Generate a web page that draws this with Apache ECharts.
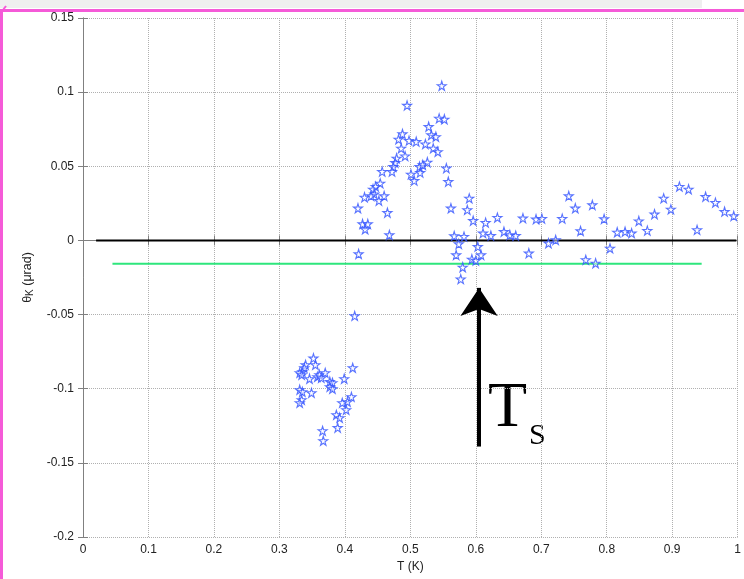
<!DOCTYPE html>
<html><head><meta charset="utf-8">
<script src="https://cdn.jsdelivr.net/npm/echarts@6/dist/echarts.min.js"></script>
<style>html,body{margin:0;padding:0;background:#fff}#c{width:744px;height:579px}</style>
</head><body><div id="c"></div>
<script>
var xTicks = [0,0.1,0.2,0.3,0.4,0.5,0.6,0.7,0.8,0.9,1];
var yTicks = [-0.2,-0.15,-0.1,-0.05,0,0.05,0.1,0.15];
var lowT = [0.352,0.355,0.340,0.338,0.335,0.331,0.334,0.346,0.358,0.361,0.370,0.364,0.377,0.381,0.377,0.381,0.399,0.412,0.331,0.335,0.349,0.334,0.331,0.410,0.404,0.396,0.402,0.387,0.392,0.389,0.366,0.367,0.415];
var lowTheta = [-0.0794,-0.0839,-0.0839,-0.0859,-0.0886,-0.0893,-0.0906,-0.0933,-0.0920,-0.0906,-0.0893,-0.0927,-0.0953,-0.0960,-0.0987,-0.1001,-0.0933,-0.0859,-0.1007,-0.1021,-0.1028,-0.1075,-0.1095,-0.1055,-0.1088,-0.1095,-0.1142,-0.1176,-0.1196,-0.1263,-0.1284,-0.1351,-0.0509];
var highT = [0.548,0.495,0.544,0.552,0.528,0.532,0.539,0.488,0.482,0.498,0.509,0.523,0.486,0.535,0.542,0.492,0.479,0.477,0.474,0.472,0.457,0.501,0.506,0.514,0.519,0.526,0.515,0.555,0.558,0.454,0.447,0.443,0.445,0.440,0.430,0.460,0.452,0.420,0.465,0.590,0.587,0.562,0.596,0.427,0.435,0.431,0.468,0.567,0.582,0.574,0.603,0.421];
var highTheta = [0.1043,0.0910,0.0823,0.0817,0.0767,0.0711,0.0699,0.0718,0.0682,0.0673,0.0666,0.0650,0.0621,0.0621,0.0598,0.0569,0.0554,0.0524,0.0497,0.0464,0.0464,0.0446,0.0403,0.0497,0.0509,0.0527,0.0457,0.0487,0.0396,0.0385,0.0363,0.0345,0.0313,0.0300,0.0291,0.0300,0.0268,0.0217,0.0187,0.0284,0.0206,0.0217,0.0133,0.0111,0.0111,0.0075,0.0037,0.0030,0.0026,-0.0024,-0.0042,-0.0091];
var tailT = [0.615,0.633,0.611,0.623,0.643,0.652,0.661,0.672,0.692,0.701,0.732,0.742,0.752,0.778,0.760,0.570,0.608,0.594,0.600,0.580,0.577,0.681,0.711,0.722,0.768,0.783,0.796,0.816,0.828,0.838,0.849,0.862,0.873,0.887,0.898,0.911,0.925,0.938,0.951,0.966,0.980,0.994,0.805];
var tailTheta = [0.0120,0.0154,0.0049,0.0032,0.0059,0.0037,0.0032,0.0150,0.0143,0.0147,0.0147,0.0300,0.0217,0.0239,0.0064,-0.0098,-0.0098,-0.0127,-0.0136,-0.0181,-0.0261,-0.0086,-0.0019,0.0003,-0.0131,-0.0154,0.0145,0.0055,0.0059,0.0049,0.0131,0.0066,0.0177,0.0284,0.0210,0.0363,0.0345,0.0071,0.0295,0.0255,0.0194,0.0165,-0.0053];
var zeroLine = [[0.02,0],[0.998,0]];
var greenLine = [[0.045,-0.0158],[0.945,-0.0158]];
var arrow = [[0.605,-0.139],[0.605,-0.032]];

function zip(a,b){return a.map(function(v,i){return [v,b[i]];});}
var pts = zip(lowT,lowTheta).concat(zip(highT,highTheta)).concat(zip(tailT,tailTheta));
var star = 'path://M50,2 L61,37 L98,37 L68,59 L79,94 L50,73 L21,94 L32,59 L2,37 L39,37 Z';
var lab = {color:'#222', fontFamily:'Liberation Sans, Arial', fontSize:12};
var ax = '#808080';
var chart = echarts.init(document.getElementById('c'));
chart.setOption({
  backgroundColor:'#fff',
  animation:false,
  grid:{left:83,right:5,top:18,bottom:42},
  xAxis:[{type:'value',min:0,max:1,interval:0.1,position:'bottom',
    name:'T (K)',nameLocation:'middle',nameGap:24,nameTextStyle:lab,
    axisLine:{lineStyle:{color:ax}},axisTick:{inside:true,length:5,lineStyle:{color:ax}},
    axisLabel:Object.assign({margin:7,formatter:function(v){return String(+v.toFixed(2));}},lab),
    splitLine:{show:true,lineStyle:{type:'dotted',color:'#b0b0b0'}}},
   {type:'value',min:0,max:1,interval:0.1,position:'top',
    axisLine:{lineStyle:{color:ax}},axisTick:{inside:true,length:5,lineStyle:{color:ax}},
    axisLabel:{show:false},splitLine:{show:false}}],
  yAxis:[{type:'value',min:-0.2,max:0.15,interval:0.05,position:'left',
    name:'{a|θ}{b|K}{a| (μrad)}',nameLocation:'middle',nameGap:44,
    nameTextStyle:{rich:{a:{fontSize:12.5,color:'#222',fontFamily:'Liberation Sans, Arial'},b:{fontSize:10,color:'#222',fontFamily:'Liberation Sans, Arial',padding:[6,0,0,0]}}},
    axisLine:{show:true,lineStyle:{color:ax}},axisTick:{show:true,inside:true,length:5,lineStyle:{color:ax}},
    axisLabel:Object.assign({margin:9,formatter:function(v){return String(+v.toFixed(2));}},lab),
    splitLine:{show:true,lineStyle:{type:'dotted',color:'#b0b0b0'}}},
   {type:'value',min:-0.2,max:0.15,interval:0.05,position:'right',
    axisLine:{show:true,lineStyle:{color:ax}},axisTick:{show:true,inside:true,length:5,lineStyle:{color:ax}},
    axisLabel:{show:false},splitLine:{show:false}}],
  series:[
    {type:'line',data:zeroLine,symbol:'none',lineStyle:{color:'#000',width:2},z:3},
    {type:'line',data:greenLine,symbol:'none',lineStyle:{color:'#2ee67c',width:2},z:3},
    {type:'scatter',data:pts,symbol:star,symbolSize:9,
      itemStyle:{color:'rgba(255,255,255,0.6)',borderColor:'#2f50ff',borderWidth:1.1},z:4},
    {type:'lines',coordinateSystem:'cartesian2d',symbol:['none','arrow'],symbolSize:[26,28],
      lineStyle:{color:'#000',width:4,opacity:1},
      data:[{coords:arrow}],z:5}
  ],
  graphic:[
    {type:'rect',shape:{x:0,y:0,width:702,height:8},style:{fill:'#efefef'},silent:true},
    {type:'rect',shape:{x:0,y:9,width:744,height:3},style:{fill:'#f55ad8'},silent:true},
    {type:'rect',shape:{x:0,y:9,width:3,height:570},style:{fill:'#f55ad8'},silent:true},
    {type:'line',shape:{x1:0,y1:14,x2:6,y2:6},style:{stroke:'#f55ad8',lineWidth:2},silent:true},
    {type:'text',left:488,top:377,style:{text:'T',font:'64px "Liberation Serif", "Times New Roman", serif',fill:'#000'},silent:true},
    {type:'text',left:529,top:421,style:{text:'S',font:'30px "Liberation Serif", "Times New Roman", serif',fill:'#000'},silent:true}
  ]
});
</script></body></html>
